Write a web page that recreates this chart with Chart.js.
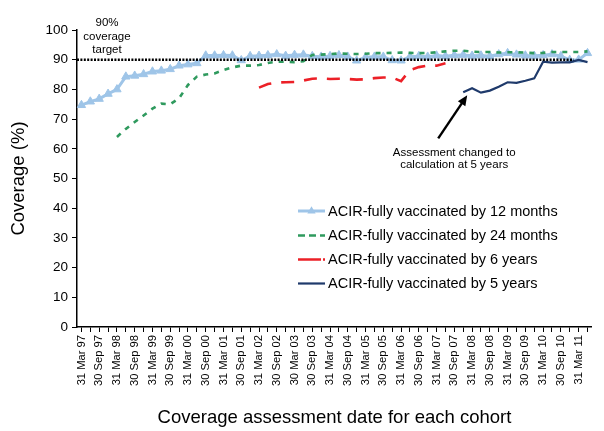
<!DOCTYPE html>
<html>
<head>
<meta charset="utf-8">
<script src="https://cdn.jsdelivr.net/npm/chart.js@4.4.1/dist/chart.umd.min.js"></script>
<style>
  html, body { margin: 0; padding: 0; background: #fff; }
  #wrap { width: 604px; height: 431px; }
</style>
</head>
<body>
<div id="wrap"><canvas id="chart" width="604" height="431"></canvas></div>
<script>
// quarterly cohort assessment dates (labels shown every second quarter)
var quarters = [
  "31 Mar 97", "30 Jun 97", "30 Sep 97", "31 Dec 97",
  "31 Mar 98", "30 Jun 98", "30 Sep 98", "31 Dec 98",
  "31 Mar 99", "30 Jun 99", "30 Sep 99", "31 Dec 99",
  "31 Mar 00", "30 Jun 00", "30 Sep 00", "31 Dec 00",
  "31 Mar 01", "30 Jun 01", "30 Sep 01", "31 Dec 01",
  "31 Mar 02", "30 Jun 02", "30 Sep 02", "31 Dec 02",
  "30 Mar 03", "30 Jun 03", "30 Sep 03", "31 Dec 03",
  "31 Mar 04", "30 Jun 04", "30 Sep 04", "31 Dec 04",
  "31 Mar 05", "30 Jun 05", "30 Sep 05", "31 Dec 05",
  "31 Mar 06", "30 Jun 06", "30 Sep 06", "31 Dec 06",
  "31 Mar 07", "30 Jun 07", "30 Sep 07", "31 Dec 07",
  "31 Mar 08", "30 Jun 08", "30 Sep 08", "31 Dec 08",
  "31 Mar 09", "30 Jun 09", "30 Sep 09", "31 Dec 09",
  "31 Mar 10", "30 Jun 10", "30 Sep 10", "31 Dec 10",
  "31 Mar 11", "30 Jun 11"
];

var by12months = [
  74.7, 75.9, 76.8, 78.5, 80.0, 84.3, 84.6, 85.1, 86.0, 86.3, 86.8, 88.0, 88.4, 88.8, 91.4, 91.4, 91.5, 91.4,
  89.8, 91.2, 91.3, 91.5, 91.8, 91.3, 91.6, 91.7, 91.2, 91.0, 91.2, 91.5, 91.0, 89.7, 90.8, 91.0, 91.0, 89.8, 89.7,
  91.0, 91.2, 91.0, 91.4, 91.2, 91.5, 91.6, 91.3, 91.4, 91.2, 91.8, 92.2, 91.7, 91.4, 91.3, 91.5, 91.8, 91.2, 89.9, 90.0, 92.2
];

var by24months = [
  null, null, null, null,
  64.0, 66.7, 69.0, 71.2, 73.5, 75.2, 75.0, 77.0, 81.5, 84.3, 85.0, 85.4, 86.5, 87.4, 88.0, 88.0, 88.2, 88.9, 89.3, 89.3, 89.2, 89.5,
  91.6, 91.7, 91.9, 92.1, 92.0, 91.9, 92.0, 92.2, 92.2, 92.3, 92.4, 92.3, 92.2, 92.3, 92.5, 92.8,
  93.0, 93.0, 92.7, 92.6, 92.6, 92.4, 92.5, 92.5, 92.4, 92.2, 92.3, 92.6, 92.6, 92.6, 92.6, 92.8
];

var by6years = [
  null, null, null, null, null, null, null, null, null, null,
  null, null, null, null, null, null, null, null, null, null,
  80.6, 81.8, 82.3, 82.4, 82.5, 83.0, 83.6, 83.7, 83.5, 83.6, 83.5, 83.3, 83.4, 83.8, 84.0, 84.0,
  82.8, 86.5, 87.5, 88.0, 88.0, 88.8,
  null, null, null, null, null, null, null, null, null, null, null, null, null, null, null, null
];

var by5years = [
  null, null, null, null, null, null, null, null, null, null,
  null, null, null, null, null, null, null, null, null, null,
  null, null, null, null, null, null, null, null, null, null,
  null, null, null, null, null, null, null, null, null, null,
  null, null, null,
  79.0, 80.4, 78.9, 79.6, 80.9, 82.4, 82.2, 82.9, 83.7, 89.3, 89.0, 89.1, 89.1, 89.9, 89.2
];

var targetValue = 90;
var targetEnd = "31 Dec 10";
var changeDate = "31 Dec 07";

var FONT = "'Liberation Sans', Arial, Helvetica, sans-serif";
Chart.defaults.font.family = FONT;
Chart.defaults.color = "#000";

// target line, notes, arrow and legend drawn over the plot
var overlay = {
  id: "overlay",
  afterDatasetsDraw: function (chart) {
    var ctx = chart.ctx;
    var xs = chart.scales.x, ys = chart.scales.y;
    var ty = ys.getPixelForValue(targetValue);
    var tx = xs.getPixelForValue(quarters.indexOf(targetEnd)) + 4;
    ctx.save();
    ctx.strokeStyle = "#000";
    ctx.lineWidth = 2.6;
    ctx.setLineDash([2, 1.4]);
    ctx.beginPath();
    ctx.moveTo(chart.chartArea.left, ty);
    ctx.lineTo(tx, ty);
    ctx.stroke();
    ctx.restore();
  },
  afterDraw: function (chart) {
    var ctx = chart.ctx;
    var xs = chart.scales.x, ys = chart.scales.y;
    ctx.save();
    ctx.fillStyle = "#000";
    ctx.textAlign = "center";
    ctx.textBaseline = "middle";
    ctx.font = "11.5px " + FONT;
    ctx.fillText("90%", 107, 23);
    ctx.fillText("coverage", 107, 36.5);
    ctx.fillText("target", 107, 50);

    // arrow to start of 5 year series
    var i = quarters.indexOf(changeDate);
    var px = xs.getPixelForValue(i) + 4;
    var py = ys.getPixelForValue(by5years[i]) + 3;
    var sx = px - 29, sy = py + 43;
    var ang = Math.atan2(py - sy, px - sx);
    ctx.strokeStyle = "#000";
    ctx.lineWidth = 2.4;
    ctx.beginPath();
    ctx.moveTo(sx, sy);
    ctx.lineTo(px - 7 * Math.cos(ang), py - 7 * Math.sin(ang));
    ctx.stroke();
    ctx.beginPath();
    ctx.moveTo(px, py);
    ctx.lineTo(px - 10 * Math.cos(ang) + 4.5 * Math.sin(ang), py - 10 * Math.sin(ang) - 4.5 * Math.cos(ang));
    ctx.lineTo(px - 10 * Math.cos(ang) - 4.5 * Math.sin(ang), py - 10 * Math.sin(ang) + 4.5 * Math.cos(ang));
    ctx.closePath();
    ctx.fill();
    ctx.fillText("Assessment changed to", sx + 16, sy + 14);
    ctx.fillText("calculation at 5 years", sx + 16, sy + 26.5);

    // legend
    var rows = [211, 235.5, 259.5, 283.5];
    ctx.textAlign = "left";
    ctx.font = "14.5px " + FONT;
    chart.data.datasets.forEach(function (ds, k) {
      var y = rows[k];
      ctx.save();
      ctx.strokeStyle = ds.borderColor;
      ctx.lineWidth = ds.borderWidth;
      ctx.setLineDash(ds.legendDash || []);
      ctx.beginPath();
      ctx.moveTo(298, y);
      ctx.lineTo(325, y);
      ctx.stroke();
      ctx.restore();
      if (ds.pointRadius > 0) {
        ctx.fillStyle = ds.borderColor;
        var r = ds.pointRadius;
        ctx.beginPath();
        ctx.moveTo(311.5, y - r);
        ctx.lineTo(311.5 + r * 0.866, y + r * 0.5);
        ctx.lineTo(311.5 - r * 0.866, y + r * 0.5);
        ctx.closePath();
        ctx.fill();
      }
      ctx.fillStyle = "#000";
      ctx.fillText(ds.label, 328, y + 0.5);
    });
    ctx.restore();
  }
};

new Chart(document.getElementById("chart"), {
  type: "line",
  data: {
    labels: quarters,
    datasets: [
      {
        label: "ACIR-fully vaccinated by 12 months",
        data: by12months,
        borderColor: "#9fc5e8",
        backgroundColor: "#9fc5e8",
        borderWidth: 3,
        pointStyle: "triangle",
        pointRadius: 4.8,
        pointBorderWidth: 1,
        order: 4
      },
      {
        label: "ACIR-fully vaccinated by 24 months",
        data: by24months,
        borderColor: "#2f9a5e",
        borderWidth: 2.6,
        borderDash: [5, 6],
        legendDash: [7, 4],
        pointRadius: 0,
        order: 3
      },
      {
        label: "ACIR-fully vaccinated by 6 years",
        data: by6years,
        borderColor: "#ec2027",
        borderWidth: 2.6,
        borderDash: [13, 10],
        legendDash: [23, 2, 2, 10],
        pointRadius: 0,
        order: 2
      },
      {
        label: "ACIR-fully vaccinated by 5 years",
        data: by5years,
        borderColor: "#1f3a6b",
        borderWidth: 2.2,
        pointRadius: 0,
        order: 1
      }
    ]
  },
  options: {
    responsive: false,
    devicePixelRatio: 1,
    animation: false,
    layout: { padding: { top: 30, right: 5, bottom: 0, left: 0 } },
    plugins: {
      legend: { display: false },
      tooltip: { enabled: false }
    },
    elements: { line: { tension: 0 } },
    scales: {
      x: {
        offset: true,
        afterFit: function (scale) { scale.height = 104; },
        grid: { drawOnChartArea: false, drawTicks: true, tickLength: 5, color: "#000", lineWidth: 1 },
        border: { display: true, color: "#000", width: 1.5 },
        ticks: {
          autoSkip: false,
          maxRotation: 90,
          minRotation: 90,
          padding: 3,
          font: { size: 11.2 },
          color: "#000",
          callback: function (v, idx) { return idx % 2 === 0 ? quarters[idx] : ""; }
        },
        title: {
          display: true,
          text: "Coverage assessment date for each cohort",
          font: { size: 18.5 },
          color: "#000",
          padding: { top: 0, bottom: 2 }
        }
      },
      y: {
        min: 0,
        max: 100,
        afterFit: function (scale) { scale.width = 77; },
        grid: { drawOnChartArea: false, drawTicks: true, tickLength: 5, color: "#000", lineWidth: 1 },
        border: { display: true, color: "#000", width: 1.5 },
        ticks: { stepSize: 10, padding: 4, font: { size: 13.5 }, color: "#000" },
        title: {
          display: true,
          text: "Coverage (%)",
          font: { size: 18.5 },
          color: "#000",
          padding: { top: 8, bottom: 4 }
        }
      }
    }
  },
  plugins: [overlay]
});
</script>
</body>
</html>
